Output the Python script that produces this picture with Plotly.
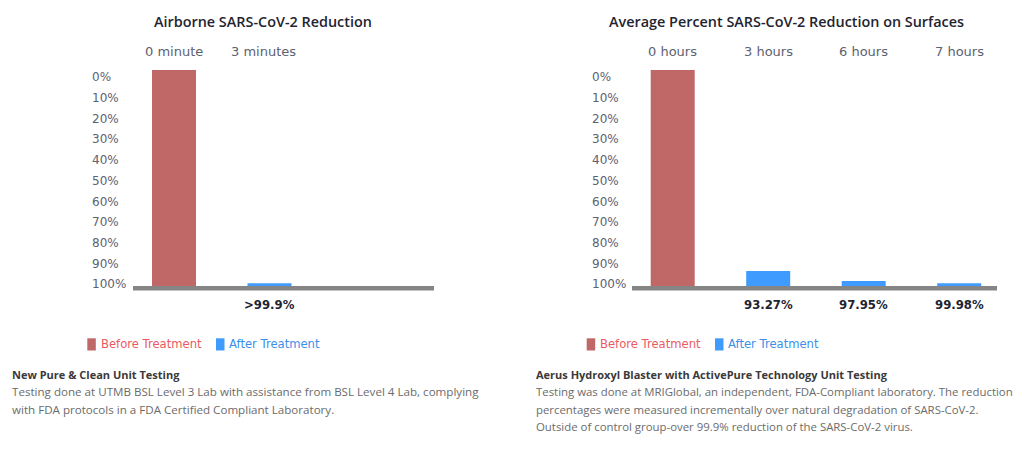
import plotly.graph_objects as go

W, H = 1024, 455
OFF = 8  # page offset of the plot div
PAD = 2  # inner padding of left-anchored annotations

# ---------------- data ----------------
left_title = "Airborne SARS-CoV-2 Reduction"
left_categories = ["0 minute", "3 minutes"]
left_before = [100, None]          # bar height (remaining %, as drawn)
left_after = [None, 1.25]          # bar height (remaining %, as drawn)
left_value_labels = ["", ">99.9%"]

right_title = "Average Percent SARS-CoV-2 Reduction on Surfaces"
right_categories = ["0 hours", "3 hours", "6 hours", "7 hours"]
right_before = [100, None, None, None]
right_after = [None, 6.9, 2.3, 1.25]
right_value_labels = ["", "93.27%", "97.95%", "99.98%"]

y_tick_labels = ["0%", "10%", "20%", "30%", "40%", "50%", "60%", "70%", "80%", "90%", "100%"]
legend_labels = ["Before Treatment", "After Treatment"]

left_note_title = "New Pure & Clean Unit Testing"
left_note_lines = [
    "Testing done at UTMB BSL Level 3 Lab with assistance from BSL Level 4 Lab, complying",
    "with FDA protocols in a FDA Certified Compliant Laboratory.",
]
right_note_title = "Aerus Hydroxyl Blaster with ActivePure Technology Unit Testing"
right_note_lines = [
    "Testing was done at MRIGlobal, an independent, FDA-Compliant laboratory. The reduction",
    "percentages were measured incrementally over natural degradation of SARS-CoV-2.",
    "Outside of control group-over 99.9% reduction of the SARS-CoV-2 virus.",
]

# ---------------- styles ----------------
RED = "#c06767"
BLUE = "#3f9bfd"
RED_TXT = "#ea5a5f"
BLUE_TXT = "#3b8fe9"
GRAY_AXIS = "#858585"
TICK_COLOR = "#5c6270"
TITLE_COLOR = "#1f2430"
FONT = "DejaVu Sans"
TFONT = "Open Sans"

def px(x):
    return (x - OFF) / W

def py(y):
    return 1 - (y - OFF) / H

SLOT = 95.5      # px per category
BAR_W = 44 / SLOT
Y_TOP, Y_BASE = 70, 286

fig = go.Figure()

panels = [
    dict(cats=left_categories, before=left_before, after=left_after, vals=left_value_labels,
         title=left_title, title_x=262.8, x0=133, x1=434, first=174, tick_x=92,
         top_shift=[0, -6], leg_x=87.3, leg_gap=128.7, note_x=11.7, note_size=11.6,
         note_title=left_note_title, note_lines=left_note_lines, xa="x", ya="y"),
    dict(cats=right_categories, before=right_before, after=right_after, vals=right_value_labels,
         title=right_title, title_x=786.8, x0=632, x1=997, first=672.7, tick_x=591.7,
         top_shift=[0, 0, 0, 0], leg_x=586.7, leg_gap=128.3, note_x=536, note_size=11.4,
         note_title=right_note_title, note_lines=right_note_lines, xa="x2", ya="y2"),
]

annotations = []
shapes = []

for i, p in enumerate(panels):
    xs = list(range(len(p["cats"])))
    fig.add_trace(go.Bar(x=xs, y=p["before"], width=BAR_W, marker=dict(color=RED, line=dict(width=0)),
                         xaxis=p["xa"], yaxis=p["ya"], showlegend=False, hoverinfo="skip"))
    fig.add_trace(go.Bar(x=xs, y=p["after"], width=BAR_W, marker=dict(color=BLUE, line=dict(width=0)),
                         xaxis=p["xa"], yaxis=p["ya"], showlegend=False, hoverinfo="skip"))
    suffix = "" if i == 0 else "2"
    r0 = -(p["first"] - p["x0"]) / SLOT
    r1 = (p["x1"] - p["first"]) / SLOT
    fig.update_layout(**{
        "xaxis" + suffix: dict(domain=[px(p["x0"]), px(p["x1"])], range=[r0, r1], visible=False,
                               anchor="y" + suffix, fixedrange=True),
        "yaxis" + suffix: dict(domain=[py(Y_BASE), py(Y_TOP)], range=[0, 100], visible=False,
                               anchor="x" + suffix, fixedrange=True),
    })
    # baseline
    shapes.append(dict(type="rect", xref="paper", yref="paper", x0=px(p["x0"]), x1=px(p["x1"]),
                       y0=py(290.5), y1=py(286), fillcolor=GRAY_AXIS, line=dict(width=0), layer="above"))
    # title
    annotations.append(dict(text=p["title"], xref="paper", yref="paper", x=px(p["title_x"]), y=py(21.5),
                            xanchor="center", yanchor="middle", showarrow=False,
                            font=dict(family=TFONT, size=14.4, color=TITLE_COLOR, weight=600)))
    # top category labels and bottom value labels
    for j, c in enumerate(p["cats"]):
        annotations.append(dict(text=c, xref=p["xa"], yref="paper", x=j, y=py(51), xshift=p["top_shift"][j],
                                xanchor="center", yanchor="middle", showarrow=False,
                                font=dict(family=FONT, size=13, color=TICK_COLOR)))
        if p["vals"][j]:
            annotations.append(dict(text=p["vals"][j], xref=p["xa"], yref="paper", x=j, y=py(305),
                                    xanchor="center", yanchor="middle", showarrow=False,
                                    font=dict(family=FONT, size=11.7, color=TITLE_COLOR, weight="bold")))
    # y tick labels
    for k, t in enumerate(y_tick_labels):
        annotations.append(dict(text=t, xref="paper", yref="paper", x=px(p["tick_x"] - PAD),
                                y=py(77.3 + 20.7 * k),
                                xanchor="left", yanchor="middle", showarrow=False,
                                font=dict(family=FONT, size=12, color=TICK_COLOR)))
    # legend
    for k, (lab, sq, tc) in enumerate(zip(legend_labels, [RED, BLUE], [RED_TXT, BLUE_TXT])):
        lx = p["leg_x"] + k * p["leg_gap"]
        shapes.append(dict(type="rect", xref="paper", yref="paper", x0=px(lx), x1=px(lx + 8.5),
                           y0=py(350.5), y1=py(338.3), fillcolor=sq, line=dict(width=0)))
        annotations.append(dict(text=lab, xref="paper", yref="paper", x=px(lx + 13.3 - PAD), y=py(344.3),
                                xanchor="left", yanchor="middle", showarrow=False,
                                font=dict(family=FONT, size=11.6, color=tc)))
    # notes
    annotations.append(dict(text=p["note_title"], xref="paper", yref="paper", x=px(p["note_x"] - PAD),
                            y=py(374.3), xanchor="left", yanchor="middle", showarrow=False,
                            font=dict(family=TFONT, size=11, color="#3a3a3a", weight="bold")))
    for k, line in enumerate(p["note_lines"]):
        annotations.append(dict(text=line, xref="paper", yref="paper", x=px(p["note_x"] - PAD),
                                y=py(391.7 + 17.4 * k), xanchor="left", yanchor="middle", showarrow=False,
                                font=dict(family=TFONT, size=p["note_size"], color="#6b6b6b")))

fig.update_layout(width=W, height=H, margin=dict(l=0, r=0, t=0, b=0),
                  paper_bgcolor="white", plot_bgcolor="white", barmode="overlay",
                  annotations=annotations, shapes=shapes, showlegend=False)

fig.write_html("out.html")
